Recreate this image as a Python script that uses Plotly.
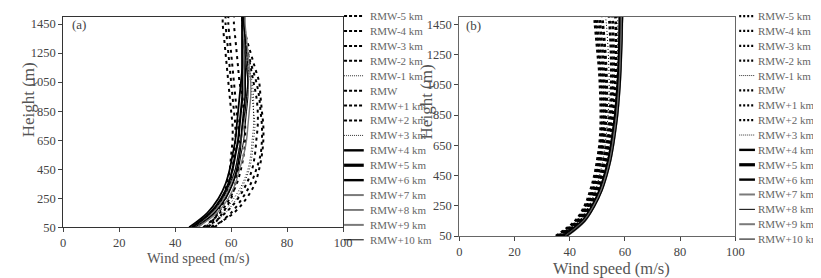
import plotly.graph_objects as go

W, H = 821, 278

heights = [50, 150, 250, 350, 450, 550, 650, 750, 850, 950, 1050, 1150, 1250, 1350, 1450, 1500]

names = ["RMW-5 km", "RMW-4 km", "RMW-3 km", "RMW-2 km", "RMW-1 km", "RMW",
         "RMW+1 km", "RMW+2 km", "RMW+3 km", "RMW+4 km", "RMW+5 km", "RMW+6 km",
         "RMW+7 km", "RMW+8 km", "RMW+9 km", "RMW+10 km"]

# Panel (a) wind profiles (m/s)
a_rmw_m5 = [52, 55, 57, 58.5, 59.5, 60, 60.5, 60.5, 60, 59.5, 59, 58.5, 58, 57.5, 57, 57]
a_rmw_m4 = [51, 55.5, 58, 59.5, 60.5, 61, 61.5, 61.5, 61, 60.5, 60, 59.5, 59, 58.5, 58, 58]
a_rmw_m3 = [53, 57, 60, 61.5, 62.5, 63, 63, 62.5, 62, 61.5, 61, 60.5, 60, 59.5, 59, 59]
a_rmw_m2 = [50, 56, 59.5, 62, 63.5, 64.5, 65, 65, 64.5, 64, 63, 62.5, 62, 61.5, 61, 61]
a_rmw_m1 = [52, 58, 62, 64.5, 66.5, 67.5, 68, 68.5, 68, 67.5, 67, 66, 65, 64.5, 64, 64]
a_rmw_0 = [54, 60, 64, 67, 69, 70.5, 71, 71, 70.5, 70, 69, 67.5, 66, 65, 64, 64]
a_rmw_p1 = [53, 61, 65.5, 68.5, 70, 71, 71.5, 71.5, 71, 70.5, 70, 68.5, 67, 65.5, 64.5, 64]
a_rmw_p2 = [51, 58, 62.5, 65.5, 67.5, 68.5, 69, 69.5, 69.5, 69, 68, 67, 66, 65, 64.5, 64]
a_rmw_p3 = [50, 57, 61, 64, 66, 67, 67.5, 68, 68, 68, 67.5, 66.5, 65.5, 65, 64.5, 64.5]
a_rmw_p4 = [48, 54, 58, 60.5, 62, 63, 63.5, 64, 64.5, 65, 65, 65, 65, 64.5, 64.5, 64.5]
a_rmw_p5 = [46, 52.5, 56.5, 59, 60.5, 61.5, 62.5, 63, 63.5, 64, 64, 64, 64, 64, 64, 64]
a_rmw_p6 = [45, 51.5, 55.5, 58, 59.5, 60.5, 61.5, 62, 62.5, 63, 63.5, 64, 64, 64, 64, 64]
a_rmw_p7 = [47, 53.5, 57.5, 60, 61.5, 62.5, 63.5, 64.5, 65, 65.5, 66, 65.5, 65, 64.5, 64.5, 64.5]
a_rmw_p8 = [46.5, 53, 57, 59.5, 61.5, 62.5, 63.5, 64, 65, 65.5, 66, 66, 65.5, 65, 64.5, 64.5]
a_rmw_p9 = [48, 55, 59, 61.5, 63, 64.5, 65.5, 66, 66.5, 67, 67, 66.5, 66, 65.5, 65, 65]
a_rmw_p10 = [47, 54, 58, 60.5, 62.5, 63.5, 64.5, 65, 65.5, 66, 66, 65.5, 65, 65, 64.5, 64.5]

# Panel (b) wind profiles (m/s)
b_rmw_m5 = [35, 42, 45.5, 47.5, 49, 50, 50.8, 51.2, 51.3, 51.2, 51, 50.7, 50.2, 49.7, 49.2, 49]
b_rmw_m4 = [35.5, 42.5, 46, 48, 49.5, 50.5, 51.3, 51.8, 52, 52, 51.8, 51.5, 51, 50.5, 50, 49.8]
b_rmw_m3 = [36, 43, 46.5, 48.5, 50, 51, 51.8, 52.3, 52.6, 52.7, 52.6, 52.3, 52, 51.5, 51, 50.8]
b_rmw_m2 = [36, 43, 46.5, 48.8, 50.3, 51.4, 52.2, 52.8, 53.2, 53.4, 53.4, 53.2, 52.9, 52.5, 52, 51.8]
b_rmw_m1 = [36.5, 43.5, 47, 49.3, 50.8, 52, 52.8, 53.4, 53.9, 54.2, 54.3, 54.2, 54, 53.7, 53.3, 53]
b_rmw_0 = [36.5, 43.5, 47.2, 49.5, 51.2, 52.4, 53.3, 54, 54.5, 54.9, 55.1, 55.1, 55, 54.8, 54.5, 54.3]
b_rmw_p1 = [37, 44, 47.5, 50, 51.6, 52.8, 53.8, 54.5, 55.1, 55.5, 55.8, 55.9, 55.9, 55.8, 55.6, 55.5]
b_rmw_p2 = [37, 44, 47.8, 50.3, 52, 53.3, 54.3, 55.1, 55.7, 56.2, 56.5, 56.7, 56.8, 56.8, 56.7, 56.6]
b_rmw_p3 = [37.5, 44.5, 48, 50.6, 52.3, 53.6, 54.7, 55.5, 56.1, 56.6, 57, 57.2, 57.3, 57.4, 57.4, 57.4]
b_rmw_p4 = [37.5, 44.5, 48.2, 50.8, 52.6, 54, 55, 55.8, 56.5, 57, 57.4, 57.7, 57.9, 58, 58.1, 58.1]
b_rmw_p5 = [38, 45, 48.5, 51, 52.8, 54.2, 55.2, 56, 56.7, 57.2, 57.6, 57.9, 58.1, 58.3, 58.4, 58.4]
b_rmw_p6 = [38, 45, 48.6, 51.2, 53, 54.4, 55.4, 56.2, 56.9, 57.4, 57.8, 58.1, 58.3, 58.5, 58.6, 58.6]
b_rmw_p7 = [38.5, 45.2, 48.8, 51.4, 53.2, 54.6, 55.6, 56.4, 57.1, 57.6, 58, 58.3, 58.5, 58.7, 58.8, 58.8]
b_rmw_p8 = [38.5, 45.3, 48.9, 51.5, 53.3, 54.7, 55.7, 56.5, 57.2, 57.7, 58.1, 58.4, 58.6, 58.8, 58.9, 59]
b_rmw_p9 = [39, 45.5, 49, 51.6, 53.4, 54.8, 55.8, 56.6, 57.3, 57.8, 58.2, 58.5, 58.7, 58.9, 59, 59.1]
b_rmw_p10 = [39, 45.5, 49.1, 51.7, 53.5, 54.9, 55.9, 56.7, 57.4, 57.9, 58.3, 58.6, 58.8, 59, 59.1, 59.2]

x_ticks = [0, 20, 40, 60, 80, 100]
y_ticks = [50, 250, 450, 650, 850, 1050, 1250, 1450]

panel_a = [a_rmw_m5, a_rmw_m4, a_rmw_m3, a_rmw_m2, a_rmw_m1, a_rmw_0, a_rmw_p1, a_rmw_p2,
           a_rmw_p3, a_rmw_p4, a_rmw_p5, a_rmw_p6, a_rmw_p7, a_rmw_p8, a_rmw_p9, a_rmw_p10]
panel_b = [b_rmw_m5, b_rmw_m4, b_rmw_m3, b_rmw_m2, b_rmw_m1, b_rmw_0, b_rmw_p1, b_rmw_p2,
           b_rmw_p3, b_rmw_p4, b_rmw_p5, b_rmw_p6, b_rmw_p7, b_rmw_p8, b_rmw_p9, b_rmw_p10]

GREY = "#7a7a7a"
DASH_A = ("black", 2.0, "3px,4px")
DOT_A = ("black", 0.9, "1px,2px")
DASH_B = ("black", 2.8, "3px,3px")
DOT_B = ("black", 1.0, "1px,2px")
style_a = [DASH_A] * 4 + [DOT_A] + [DASH_A] * 3 + [DOT_A] + \
          [("black", 1.8, "solid"), ("black", 2.2, "solid"), ("black", 1.8, "solid"),
           (GREY, 1.4, "solid"), ("black", 1.0, "solid"), (GREY, 1.4, "solid"), ("black", 1.0, "solid")]
style_b = [DASH_B] * 4 + [DOT_B] + [DASH_B] * 3 + [DOT_B] + \
          [("black", 2.6, "solid"), ("black", 3.0, "solid"), ("black", 2.6, "solid"),
           (GREY, 2.0, "solid"), ("black", 1.2, "solid"), (GREY, 2.0, "solid"), ("black", 1.2, "solid")]
LDASH_A = ("black", 2.0, "3px,2px")
LDOT = ("black", 0.8, "1px,1px")
LDASH_B = ("black", 2.2, "2px,2px")
leg_a = [LDASH_A] * 4 + [LDOT] + [LDASH_A] * 3 + [LDOT] + \
        [("black", 2.4, "solid"), ("black", 3.2, "solid"), ("black", 2.4, "solid"),
         (GREY, 2.0, "solid"), ("black", 1.0, "solid"), (GREY, 2.0, "solid"), ("black", 1.0, "solid")]
leg_b = [LDASH_B] * 4 + [LDOT] + [LDASH_B] * 3 + [LDOT] + \
        [("black", 2.4, "solid"), ("black", 3.2, "solid"), ("black", 2.4, "solid"),
         (GREY, 2.0, "solid"), ("black", 1.0, "solid"), (GREY, 2.0, "solid"), ("black", 1.0, "solid")]

FONT = "Liberation Serif"
fig = go.Figure()

for vals, name, (c, w, d) in zip(panel_a, names, style_a):
    fig.add_trace(go.Scatter(x=vals, y=heights, mode="lines", name=name, showlegend=False,
                             line=dict(color=c, width=w, dash=d, shape="spline"),
                             xaxis="x", yaxis="y"))
for vals, name, (c, w, d) in zip(panel_b, names, style_b):
    fig.add_trace(go.Scatter(x=vals, y=heights, mode="lines", name=name, showlegend=False,
                             line=dict(color=c, width=w, dash=d, shape="spline"),
                             xaxis="x2", yaxis="y2"))

def px(x):
    return x / W

def py(y):
    return 1 - y / H

axis_common = dict(showgrid=False, zeroline=False, ticks="outside", ticklen=4, tickwidth=1,
                   tickcolor="#444", showline=True, mirror=True, linewidth=1.2,
                   tickfont=dict(family=FONT, size=12.5, color="#444"))

fig.update_layout(
    width=W, height=H, margin=dict(l=0, r=0, t=0, b=0),
    paper_bgcolor="white", plot_bgcolor="white", showlegend=False,
    xaxis=dict(domain=[px(53), px(337)], range=[0, 100], tickvals=x_ticks,
               anchor="y", linecolor="#333", **axis_common),
    yaxis=dict(domain=[py(225), py(9)], range=[50, 1500], tickvals=y_ticks,
               anchor="x", linecolor="#333", **axis_common),
    xaxis2=dict(domain=[px(455), px(735)], range=[0, 100], tickvals=x_ticks,
                anchor="y2", linecolor="#666", **axis_common),
    yaxis2=dict(domain=[py(234), py(9)], range=[50, 1500], tickvals=y_ticks,
                anchor="x2", linecolor="#666", **axis_common),
)

annotations = [
    dict(text="(a)", x=px(60), y=py(17), xref="paper", yref="paper", xanchor="left",
         yanchor="middle", showarrow=False, font=dict(family=FONT, size=13, color="#444")),
    dict(text="(b)", x=px(460), y=py(18), xref="paper", yref="paper", xanchor="left",
         yanchor="middle", showarrow=False, font=dict(family=FONT, size=13, color="#444")),
    dict(text="Wind speed (m/s)", x=px(190), y=py(257), xref="paper", yref="paper",
         xanchor="center", yanchor="middle", showarrow=False,
         font=dict(family=FONT, size=14.5, color="#555")),
    dict(text="Wind speed (m/s)", x=px(609), y=py(267), xref="paper", yref="paper",
         xanchor="center", yanchor="middle", showarrow=False,
         font=dict(family=FONT, size=16.5, color="#555")),
    dict(text="Height (m)", x=px(18), y=py(94), xref="paper", yref="paper", textangle=-90,
         xanchor="center", yanchor="middle", showarrow=False,
         font=dict(family=FONT, size=17, color="#555")),
    dict(text="Height (m)", x=px(422), y=py(96), xref="paper", yref="paper", textangle=-90,
         xanchor="center", yanchor="middle", showarrow=False,
         font=dict(family=FONT, size=17, color="#555")),
]

shapes = []
for i, name in enumerate(names):
    ya = 8.3 + i * 15.3
    c, w, d = leg_a[i]
    shapes.append(dict(type="line", xref="paper", yref="paper", x0=px(338), x1=px(358),
                       y0=py(ya), y1=py(ya), line=dict(color=c, width=w, dash=d)))
    annotations.append(dict(text=name, x=px(362), y=py(ya), xref="paper", yref="paper",
                            xanchor="left", yanchor="middle", showarrow=False,
                            font=dict(family=FONT, size=11, color="#666")))
    yb = 8.3 + i * 15.25
    c, w, d = leg_b[i]
    shapes.append(dict(type="line", xref="paper", yref="paper", x0=px(739), x1=px(755),
                       y0=py(yb), y1=py(yb), line=dict(color=c, width=w, dash=d)))
    annotations.append(dict(text=name, x=px(756), y=py(yb), xref="paper", yref="paper",
                            xanchor="left", yanchor="middle", showarrow=False,
                            font=dict(family=FONT, size=11, color="#666")))

fig.update_layout(annotations=annotations, shapes=shapes)
fig.write_html("out.html")
